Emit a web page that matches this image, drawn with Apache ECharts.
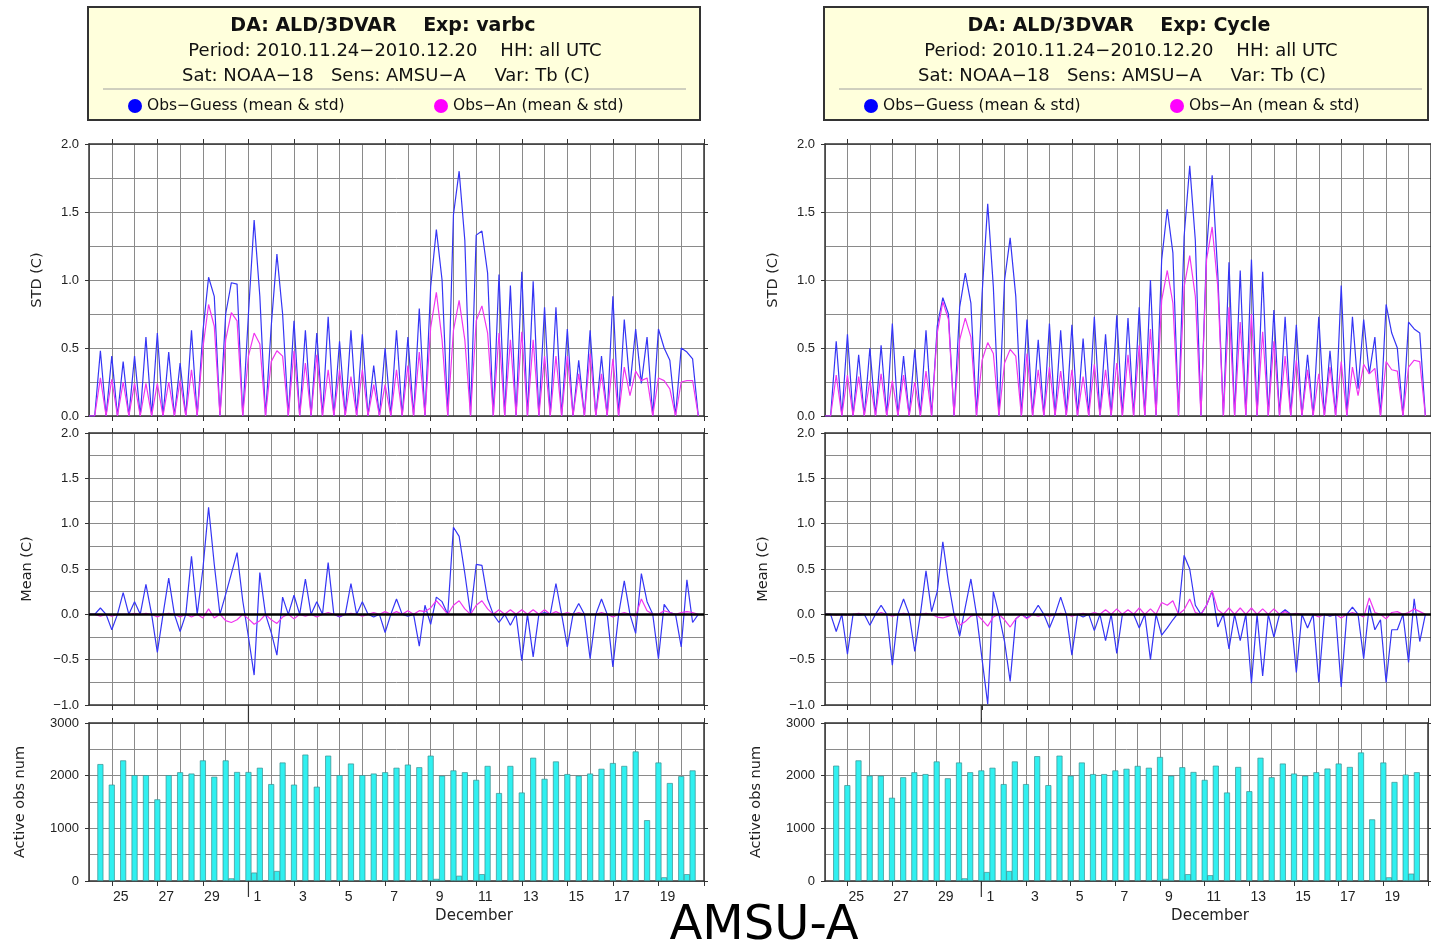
<!DOCTYPE html>
<html>
<head>
<meta charset="utf-8">
<title>AMSU-A departures</title>
<script src="https://cdn.jsdelivr.net/npm/echarts@6/dist/echarts.min.js"></script>
<style>
  html, body { margin: 0; padding: 0; background: #ffffff; }
  #chart { width: 1431px; height: 946px; }
</style>
</head>
<body>
<div id="chart"></div>
<script>
// ---- Time axis: 6-hourly slots from 2010-11-24 00 UTC to 2010-12-21 00 UTC ----
const startUTC = Date.UTC(2010, 10, 24, 0);
const slotTimes = Array.from({ length: 109 }, (_, i) =>
  new Date(startUTC + i * 6 * 3600 * 1000).toISOString().slice(0, 13) + 'Z');
// day numbers shown under the odd-day ticks (00 UTC)
const dayLabels = ['25', '27', '29', '1', '3', '5', '7', '9', '11', '13', '15', '17', '19'];

// ---- Experiment "varbc" ----
const varbcGuessStd = [
  0, 0, 0.48, 0, 0.44, 0, 0.40, 0,
  0.44, 0, 0.58, 0, 0.61, 0, 0.47, 0,
  0.39, 0, 0.63, 0, 0.62, 1.02, 0.88, 0,
  0.75, 0.98, 0.97, 0, 0.75, 1.44, 0.88, 0,
  0.66, 1.19, 0.75, 0, 0.70, 0, 0.63, 0,
  0.61, 0, 0.73, 0, 0.55, 0, 0.63, 0,
  0.60, 0, 0.37, 0, 0.50, 0, 0.63, 0,
  0.58, 0, 0.79, 0, 0.95, 1.37, 1.00, 0,
  1.48, 1.80, 1.29, 0, 1.33, 1.36, 1.05, 0,
  1.04, 0, 0.96, 0, 1.06, 0, 0.99, 0,
  0.80, 0, 0.80, 0, 0.64, 0, 0.41, 0,
  0.63, 0, 0.44, 0, 0.88, 0, 0.71, 0.22,
  0.64, 0.24, 0.58, 0, 0.64, 0.50, 0.41, 0,
  0.50, 0.47, 0.42, 0
];
const varbcAnStd = [
  0, 0, 0.28, 0, 0.27, 0, 0.25, 0,
  0.24, 0, 0.24, 0, 0.24, 0, 0.25, 0,
  0.26, 0, 0.34, 0, 0.50, 0.82, 0.66, 0,
  0.56, 0.76, 0.70, 0, 0.44, 0.61, 0.53, 0,
  0.40, 0.48, 0.44, 0, 0.48, 0, 0.39, 0,
  0.45, 0, 0.34, 0, 0.34, 0, 0.29, 0,
  0.34, 0, 0.23, 0, 0.23, 0, 0.34, 0,
  0.37, 0, 0.47, 0, 0.65, 0.91, 0.56, 0,
  0.63, 0.85, 0.56, 0, 0.70, 0.81, 0.61, 0,
  0.61, 0, 0.56, 0, 0.62, 0, 0.56, 0,
  0.44, 0, 0.44, 0, 0.44, 0, 0.31, 0,
  0.46, 0, 0.31, 0, 0.42, 0, 0.36, 0.15,
  0.33, 0.26, 0.28, 0, 0.28, 0.26, 0.20, 0,
  0.25, 0.26, 0.26, 0
];
const varbcGuessMean = [
  0, 0, 0.07, 0, -0.17, 0, 0.24, 0,
  0.14, 0, 0.33, 0, -0.42, 0, 0.40, 0,
  -0.19, 0, 0.64, 0, 0.50, 1.18, 0.55, 0,
  0.22, 0.45, 0.68, 0.15, -0.25, -0.67, 0.46, 0,
  -0.20, -0.45, 0.19, 0, 0.21, 0, 0.39, 0,
  0.14, 0, 0.57, 0, -0.03, 0, 0.34, 0,
  0.14, 0, -0.03, 0, -0.20, 0, 0.17, 0,
  -0.02, 0, -0.35, 0.10, -0.11, 0.19, 0.14, 0,
  0.96, 0.86, 0.45, 0, 0.55, 0.54, 0.17, 0,
  -0.09, 0, -0.12, 0, -0.51, 0, -0.47, 0,
  0.02, 0, 0.34, 0, -0.36, 0, 0.12, 0,
  -0.49, 0, 0.17, 0, -0.58, 0, 0.37, 0,
  -0.21, 0.45, 0.14, 0, -0.49, 0.11, 0.02, 0,
  -0.36, 0.38, -0.09, 0
];
const varbcAnMean = [
  0, 0, -0.02, 0, -0.02, 0, 0.00, 0,
  0.01, 0, 0.01, 0, -0.03, 0, 0.01, 0,
  -0.03, 0, -0.03, 0, -0.04, 0.06, -0.04, 0,
  -0.07, -0.09, -0.06, 0, -0.05, -0.11, -0.07, 0,
  -0.06, -0.10, -0.03, 0, -0.05, 0, -0.02, 0,
  -0.03, 0, 0.02, 0, -0.02, 0, 0.01, 0,
  -0.02, 0, 0.02, 0, 0.03, 0, 0.03, 0,
  0.04, 0, 0.04, 0.03, 0.07, 0.15, 0.08, 0,
  0.10, 0.15, 0.06, 0, 0.10, 0.15, 0.06, 0,
  0.05, 0, 0.05, 0, 0.05, 0, 0.05, 0,
  0.05, 0, 0.03, 0, 0.02, 0, 0.02, 0,
  0.00, 0, 0.02, 0, -0.03, 0, 0.02, 0,
  -0.02, 0.17, 0.04, 0, 0.00, 0.04, 0.02, 0,
  0.02, 0.03, 0.02, 0
];
const varbcActiveObs = [
  0, 0, 2220, 0, 1830, 0, 2290, 0,
  2010, 0, 2010, 0, 1550, 0, 2010, 0,
  2065, 0, 2040, 0, 2290, 0, 1980, 0,
  2290, 50, 2070, 0, 2070, 160, 2150, 0,
  1840, 190, 2250, 0, 1830, 0, 2400, 0,
  1790, 0, 2380, 0, 2010, 0, 2230, 0,
  2010, 0, 2040, 0, 2065, 0, 2150, 0,
  2210, 0, 2160, 0, 2380, 40, 2000, 0,
  2100, 100, 2065, 0, 1920, 130, 2185, 0,
  1670, 0, 2185, 0, 1680, 0, 2340, 0,
  1940, 0, 2270, 0, 2030, 0, 2000, 0,
  2040, 0, 2130, 0, 2240, 0, 2185, 0,
  2460, 0, 1155, 0, 2250, 70, 1860, 0,
  1990, 130, 2100, 0
];

// ---- Experiment "Cycle" ----
const cycleGuessStd = [
  0, 0, 0.55, 0, 0.60, 0, 0.45, 0,
  0.50, 0, 0.52, 0, 0.68, 0, 0.44, 0,
  0.49, 0, 0.63, 0, 0.66, 0.87, 0.75, 0,
  0.80, 1.05, 0.83, 0, 0.90, 1.56, 0.95, 0,
  1.00, 1.31, 0.88, 0, 0.71, 0, 0.56, 0,
  0.68, 0, 0.63, 0, 0.67, 0, 0.57, 0,
  0.73, 0, 0.60, 0, 0.74, 0, 0.72, 0,
  0.80, 0, 1.00, 0, 1.15, 1.52, 1.20, 0,
  1.32, 1.84, 1.29, 0, 1.22, 1.77, 1.05, 0,
  1.13, 0, 1.07, 0, 1.15, 0, 1.06, 0,
  0.78, 0, 0.73, 0, 0.67, 0, 0.45, 0,
  0.73, 0, 0.48, 0, 0.96, 0, 0.73, 0.20,
  0.71, 0.31, 0.58, 0, 0.82, 0.61, 0.50, 0,
  0.69, 0.64, 0.61, 0
];
const cycleAnStd = [
  0, 0, 0.30, 0, 0.30, 0, 0.29, 0,
  0.26, 0, 0.31, 0, 0.26, 0, 0.30, 0,
  0.25, 0, 0.33, 0, 0.61, 0.84, 0.71, 0,
  0.56, 0.72, 0.58, 0, 0.41, 0.54, 0.46, 0,
  0.39, 0.49, 0.44, 0, 0.46, 0, 0.34, 0,
  0.36, 0, 0.33, 0, 0.34, 0, 0.29, 0,
  0.38, 0, 0.34, 0, 0.39, 0, 0.45, 0,
  0.52, 0, 0.64, 0, 0.85, 1.07, 0.83, 0,
  0.95, 1.18, 0.88, 0, 1.15, 1.39, 0.95, 0,
  0.80, 0, 0.69, 0, 0.75, 0, 0.62, 0,
  0.55, 0, 0.44, 0, 0.41, 0, 0.34, 0,
  0.31, 0, 0.36, 0, 0.40, 0, 0.36, 0.15,
  0.38, 0.31, 0.35, 0, 0.40, 0.34, 0.33, 0,
  0.36, 0.41, 0.40, 0
];
const cycleGuessMean = [
  0, 0, -0.19, 0, -0.44, 0, -0.01, 0,
  -0.12, 0, 0.10, 0, -0.56, 0, 0.17, 0,
  -0.41, 0, 0.48, 0.03, 0.25, 0.80, 0.35, 0,
  -0.24, 0.08, 0.39, 0, -0.50, -0.99, 0.25, 0,
  -0.30, -0.74, -0.05, 0, -0.04, 0, 0.10, 0,
  -0.15, 0, 0.19, 0, -0.45, 0, -0.03, 0,
  -0.18, 0, -0.29, 0, -0.43, 0, 0.00, 0,
  -0.15, 0, -0.50, 0, -0.23, -0.15, -0.06, 0.02,
  0.65, 0.50, 0.10, 0, 0.10, 0.26, -0.14, 0,
  -0.38, 0, -0.29, 0, -0.76, 0, -0.68, 0,
  -0.25, 0, 0.05, 0, -0.64, 0, -0.15, 0,
  -0.75, 0, -0.02, 0, -0.80, 0, 0.08, 0,
  -0.49, 0.10, -0.17, -0.06, -0.75, -0.17, -0.17, 0,
  -0.53, 0.17, -0.30, 0
];
const cycleAnMean = [
  0, 0, -0.01, 0, -0.01, 0, 0.01, 0,
  0.00, 0, 0.02, 0, -0.02, 0, 0.01, 0,
  -0.01, 0, 0.01, 0, -0.03, -0.04, -0.02, 0,
  -0.12, -0.08, -0.02, 0, -0.06, -0.13, -0.03, 0,
  -0.06, -0.14, -0.05, 0, -0.05, 0, -0.02, 0,
  -0.02, 0, 0.01, 0, -0.02, 0, 0.01, 0,
  0.02, 0, 0.05, 0, 0.06, 0, 0.05, 0,
  0.07, 0, 0.06, 0, 0.13, 0.10, 0.15, 0,
  0.05, 0.17, 0.02, 0, 0.10, 0.26, 0.05, 0,
  0.07, 0, 0.07, 0, 0.07, 0, 0.06, 0,
  0.06, 0, 0.03, 0, 0.01, 0, 0.00, 0,
  -0.03, 0, -0.01, 0, -0.04, 0, 0.02, 0,
  -0.03, 0.18, 0.02, 0, -0.05, 0.02, 0.03, 0,
  0.02, 0.06, 0.03, 0
];
const cycleActiveObs = [
  0, 0, 2190, 0, 1820, 0, 2290, 0,
  2000, 0, 2000, 0, 1580, 0, 1970, 0,
  2065, 0, 2030, 0, 2270, 0, 1950, 0,
  2250, 50, 2065, 0, 2100, 170, 2150, 0,
  1840, 190, 2270, 0, 1840, 0, 2370, 0,
  1820, 0, 2380, 0, 2000, 0, 2250, 0,
  2030, 0, 2030, 0, 2100, 0, 2130, 0,
  2185, 0, 2150, 0, 2355, 40, 2000, 0,
  2160, 130, 2070, 0, 1920, 110, 2190, 0,
  1680, 0, 2165, 0, 1705, 0, 2340, 0,
  1970, 0, 2230, 0, 2040, 0, 2000, 0,
  2065, 0, 2135, 0, 2230, 0, 2165, 0,
  2440, 0, 1170, 0, 2250, 70, 1880, 0,
  2020, 140, 2065, 0
];

const GUESS_NAME = 'Obs\u2212Guess (mean & std)';
const AN_NAME = 'Obs\u2212An (mean & std)';

// ---- Layout / styles ----
const FONT = '"Liberation Sans", Arial, sans-serif';
const TEXT_FONT = '"DejaVu Sans", sans-serif';
const AXIS_COLOR = '#333333';
const GRID_COLOR = '#8a8a8a';
const GUESS_COLOR = '#0000ff';
const AN_COLOR = '#ff00ff';
const PANEL_W = 615;
const rows = [
  { top: 144, height: 272, min: 0, max: 2, interval: 0.5, name: 'STD (C)', gap: 44 },
  { top: 433, height: 272, min: -1, max: 2, interval: 0.5, name: 'Mean (C)', gap: 54 },
  { top: 723, height: 158, min: 0, max: 3000, interval: 1000, name: 'Active obs num', gap: 61 }
];
const experiments = [
  { left: 89, boxW: 612, exp: 'varbc', guessStd: varbcGuessStd, anStd: varbcAnStd,
    guessMean: varbcGuessMean, anMean: varbcAnMean, obs: varbcActiveObs },
  { left: 825, boxW: 604, exp: 'Cycle', guessStd: cycleGuessStd, anStd: cycleAnStd,
    guessMean: cycleGuessMean, anMean: cycleAnMean, obs: cycleActiveObs }
];

const isOddDayTick = i => i % 8 === 4;
const isDayStart = i => i % 4 === 0;
const fmtValue = (j, v) => j === 2 ? String(v) : v.toFixed(1).replace('-', '\u2212');

const grid = [], xAxis = [], yAxis = [], series = [];

experiments.forEach((e, k) => {
  rows.forEach((r, j) => {
    const g = k * 3 + j;
    grid.push({ left: e.left, top: r.top, width: PANEL_W, height: r.height });
    // bottom time axis
    xAxis.push({
      type: 'category', gridIndex: g, data: slotTimes, boundaryGap: false, position: 'bottom',
      axisLine: { show: true, onZero: false, lineStyle: { color: AXIS_COLOR, width: 1.5 } },
      axisTick: { show: true, inside: false, length: 5, interval: isOddDayTick,
                  lineStyle: { color: AXIS_COLOR, width: 1 } },
      axisLabel: { show: j === 2, interval: isOddDayTick, margin: 9, padding: [0, 0, 0, 18],
                   formatter: (v, i) => dayLabels[(i - 4) / 8] || '',
                   fontFamily: FONT, fontSize: 14, color: '#222' },
      splitLine: { show: true, interval: isDayStart, lineStyle: { color: GRID_COLOR, width: 1 } }
    });
    // top time axis (frame + ticks)
    xAxis.push({
      type: 'category', gridIndex: g, data: slotTimes, boundaryGap: false, position: 'top',
      axisLine: { show: true, onZero: false, lineStyle: { color: AXIS_COLOR, width: 1.5 } },
      axisTick: { show: true, inside: false, length: 5, interval: isOddDayTick,
                  lineStyle: { color: AXIS_COLOR, width: 1 } },
      axisLabel: { show: false }, splitLine: { show: false }
    });
    // left value axis
    yAxis.push({
      type: 'value', gridIndex: g, position: 'left', min: r.min, max: r.max, interval: r.interval,
      axisLine: { show: true, onZero: false, lineStyle: { color: AXIS_COLOR, width: 1.5 } },
      axisTick: { show: true, inside: false, length: 4, lineStyle: { color: AXIS_COLOR } },
      axisLabel: { margin: 10, formatter: v => fmtValue(j, v), fontFamily: FONT, fontSize: 13, color: '#222' },
      splitLine: { show: true, lineStyle: { color: GRID_COLOR, width: 1 } },
      minorTick: { show: false, splitNumber: 2 },
      minorSplitLine: { show: true, lineStyle: { color: GRID_COLOR, width: 1 } },
      name: r.name, nameLocation: 'middle', nameGap: r.gap, nameRotate: 90,
      nameTextStyle: { fontFamily: TEXT_FONT, fontSize: 14.5, color: '#222' }
    });
    // right value axis (frame + ticks)
    yAxis.push({
      type: 'value', gridIndex: g, position: 'right', min: r.min, max: r.max, interval: r.interval,
      axisLine: { show: true, onZero: false, lineStyle: { color: AXIS_COLOR, width: 1.5 } },
      axisTick: { show: true, inside: false, length: 4, lineStyle: { color: AXIS_COLOR } },
      axisLabel: { show: false }, splitLine: { show: false }
    });
  });

  const gStd = k * 3, gMean = k * 3 + 1, gObs = k * 3 + 2;
  const lineSeries = (name, data, g, color, lineColor, extra) => Object.assign({
    type: 'line', name, data, xAxisIndex: 2 * g, yAxisIndex: 2 * g,
    color, symbol: 'none', showSymbol: false, animation: false,
    lineStyle: { color: lineColor, width: 1.2 }, emphasis: { disabled: true }
  }, extra || {});

  series.push(lineSeries(GUESS_NAME, e.guessStd, gStd, GUESS_COLOR, '#3535f5'));
  series.push(lineSeries(AN_NAME, e.anStd, gStd, AN_COLOR, '#f035f0'));
  series.push(lineSeries(GUESS_NAME, e.guessMean, gMean, GUESS_COLOR, '#3535f5', {
    markLine: {
      silent: true, animation: false, symbol: ['none', 'none'], label: { show: false },
      lineStyle: { color: '#000', width: 2.5, type: 'solid' }, data: [{ yAxis: 0 }]
    }
  }));
  series.push(lineSeries(AN_NAME, e.anMean, gMean, AN_COLOR, '#f035f0'));
  series.push({
    type: 'bar', name: 'Active obs', data: e.obs.map(v => (v > 0 ? v : '-')),
    xAxisIndex: 2 * gObs, yAxisIndex: 2 * gObs, barWidth: 6, animation: false,
    itemStyle: { color: '#30f0f0', borderColor: '#3a8f8f', borderWidth: 0.7 },
    emphasis: { disabled: true }
  });
});

// ---- Header boxes ----
const headerLines = (exp) => [
  { text: 'DA: ALD/3DVAR    Exp: ' + exp, dx: -11, y: 26, size: 19, weight: 'bold' },
  { text: 'Period: 2010.11.24\u22122010.12.20    HH: all UTC', dx: 1, y: 51, size: 18, weight: 'normal' },
  { text: 'Sat: NOAA\u221218   Sens: AMSU\u2212A     Var: Tb (C)', dx: -8, y: 76, size: 18, weight: 'normal' }
];
const centeredText = (id, x, y, text, size, weight, family, color) => ({
  type: 'text', id, z: 11, x, y,
  style: { text, fontFamily: family, fontSize: size, fontWeight: weight || 'normal', fill: color || '#111',
           align: 'center', verticalAlign: 'middle', textAlign: 'center', textVerticalAlign: 'middle' }
});
const graphicEls = [];
const legends = [];
experiments.forEach((e, k) => {
  const bx = e.left - 1, cx = bx + 306;
  graphicEls.push({
    type: 'rect', id: 'box' + k, z: 10,
    shape: { x: bx, y: 7, width: e.boxW, height: 113 },
    style: { fill: '#ffffdc', stroke: '#333', lineWidth: 2 }
  });
  headerLines(e.exp).forEach((h, i) => {
    graphicEls.push(centeredText('hdr' + k + '_' + i, cx + h.dx, h.y, h.text, h.size, h.weight, TEXT_FONT));
  });
  graphicEls.push({
    type: 'line', id: 'sep' + k, z: 11,
    shape: { x1: bx + 15, y1: 89, x2: bx + 598, y2: 89 },
    style: { stroke: '#a0a0a0', lineWidth: 1 }
  });
  graphicEls.push(centeredText('month' + k, e.left + 385, 916, 'December', 15, 'normal', TEXT_FONT, '#222'));
  const legendText = { fontFamily: TEXT_FONT, fontSize: 15.5, color: '#111' };
  legends.push({
    data: [GUESS_NAME], left: bx + 35, top: 93, icon: 'circle', itemWidth: 14, itemHeight: 14,
    selectedMode: false, z: 12, textStyle: legendText
  });
  legends.push({
    data: [AN_NAME], left: bx + 341, top: 93, icon: 'circle', itemWidth: 14, itemHeight: 14,
    selectedMode: false, z: 12, textStyle: legendText
  });
});
graphicEls.push(centeredText('sensor', 764, 927, 'AMSU-A', 48, 'normal', TEXT_FONT, '#000'));

const chart = echarts.init(document.getElementById('chart'), null, { renderer: 'canvas' });
chart.setOption({
  backgroundColor: '#ffffff',
  animation: false,
  grid, xAxis, yAxis, series,
  legend: legends,
  graphic: { elements: graphicEls }
});

// Month boundary marks (1 December 00 UTC) below the mean and count panels
const monthMarks = [];
experiments.forEach((e, k) => {
  const gMean = k * 3 + 1, gObs = k * 3 + 2;
  const x = chart.convertToPixel({ xAxisIndex: 2 * gObs }, slotTimes[28]);
  const meanBottom = chart.convertToPixel({ yAxisIndex: 2 * gMean }, rows[1].min);
  const obsTop = chart.convertToPixel({ yAxisIndex: 2 * gObs }, rows[2].max);
  const obsBottom = chart.convertToPixel({ yAxisIndex: 2 * gObs }, rows[2].min);
  monthMarks.push({ type: 'line', id: 'mm1_' + k, z: 9,
    shape: { x1: x, y1: meanBottom, x2: x, y2: obsTop }, style: { stroke: AXIS_COLOR, lineWidth: 1.2 } });
  monthMarks.push({ type: 'line', id: 'mm2_' + k, z: 9,
    shape: { x1: x, y1: obsBottom, x2: x, y2: obsBottom + 16 }, style: { stroke: AXIS_COLOR, lineWidth: 1.2 } });
});
chart.setOption({ graphic: { elements: monthMarks } });
</script>
</body>
</html>
